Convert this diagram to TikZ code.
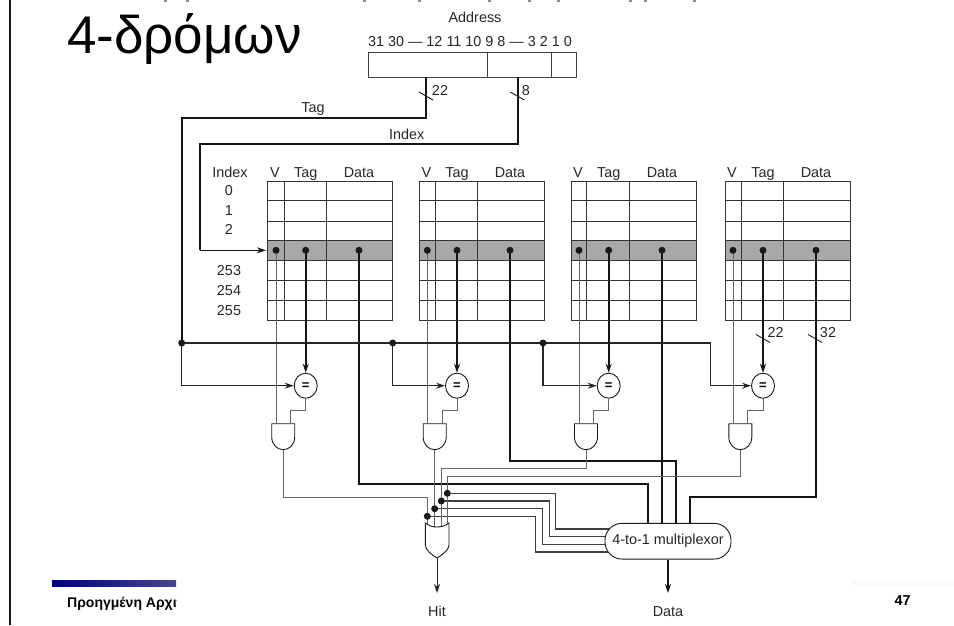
\documentclass[tikz,border=0pt]{standalone}
\usepackage{fontspec}
\setmainfont{Liberation Sans}
\setsansfont{Liberation Sans}
\usetikzlibrary{positioning,arrows.meta,backgrounds,shapes.geometric}
\definecolor{barnavy}{RGB}{0,0,128}
\definecolor{barend}{RGB}{72,72,140}
\definecolor{rowgray}{RGB}{168,168,168}

\begin{document}
\begin{tikzpicture}[
  x=1pt,y=-1pt,
  font=\sffamily,
  >={Stealth[length=9pt,width=6pt]},
  lbl/.style={font=\sffamily\fontsize{14.4}{14.4}\selectfont,text=black!85,inner sep=0pt,text height=10.5pt,text depth=0.5pt},
  field/.style={rectangle,draw=black!75,line width=0.9pt,fill=white,minimum height=25pt,anchor=north west,inner sep=0pt},
  waybox/.style={rectangle,draw=black!80,line width=0.9pt,minimum width=125pt,minimum height=139.3pt,anchor=north west,inner sep=0pt},
  grid/.style={draw=black!80,line width=0.9pt},
  dot/.style={circle,fill=black!90,inner sep=0pt,minimum size=7pt},
  cmp/.style={ellipse,draw=black!90,line width=0.9pt,fill=white,inner sep=0pt,minimum width=23pt,minimum height=25pt,font=\sffamily\bfseries\fontsize{13}{13}\selectfont},
  gate/.style={draw=black!90,line width=0.9pt,fill=white},
  muxbox/.style={rectangle,rounded corners=17pt,draw=black!90,line width=0.9pt,fill=white,minimum width=126pt,minimum height=35.7pt,inner sep=0pt,font=\sffamily\fontsize{14.4}{14.4}\selectfont,text=black!85},
  thin wire/.style={draw=black!60,line width=1pt},
  sel wire/.style={draw=black!75,line width=1.1pt},
  bus/.style={draw=black!85,line width=1.3pt},
  fat/.style={draw=black!92,line width=1.8pt},
  slash/.style={draw=black!90,line width=0.9pt}
]
\useasboundingbox (0,0) rectangle (954,625);

%% ================= frame and title =================
\coordinate (frametop) at (10,0);
\coordinate (framebot) at (10,625);
\draw[draw=black!90,line width=2pt] (frametop) -- (framebot);
\foreach \x in {165,187,364,419,489,529,558,630,645,694}
  \fill[black!45] (\x-1.5,0) rectangle (\x+1.5,1.6);
\node[anchor=base west,inner sep=0pt,font=\sffamily\fontsize{53}{53}\selectfont] (title) at (67,53) {4-δρόμων};

%% ================= address =================
\node[lbl] (addrlab) at (475,17) {Address};
\node[lbl] (bitslab) at (470,41) {31 30 — 12 11 10 9 8 — 3 2 1 0};
\node[field,minimum width=119pt] (ftag) at (367.7,52) {};
\node[field,minimum width=64pt]  (fidx) at (486.7,52) {};
\node[field,minimum width=25.3pt] (foff) at (550.7,52) {};

\coordinate (tagtap)  at (426,77);
\coordinate (tagbend) at (426,118);
\coordinate (idxtap)  at (518,77);
\coordinate (idxbend) at (518,144);
\coordinate (idxtop)  at (200,144);
\coordinate (idxcorn) at (200,250.3);
\coordinate (rowin)   at (266,250.3);
\node[lbl] (taglab) at (313,107) {Tag};
\node[lbl] (idxlab) at (406.7,134) {Index};

%% ================= the four ways =================
\node[lbl] (idxhead) at (230,172) {Index};
\foreach \t/\y in {0/190.7, 1/210, 2/229, 253/270, 254/290, 255/310}
  \node[lbl] (row\t) at (229,\y) {\t};

\foreach \n/\tx/\va/\vb/\dv/\dt/\dd in {1/267.3/284.3/326/276/305.7/359,
    2/419.3/435.7/477.5/427.3/457/510,
    3/570.7/586.7/629.3/579/608.7/662,
    4/725/741.3/783.3/733/763/816}{
  \fill[rowgray] (\tx,240.3) rectangle (\tx+125,260);
  \node[waybox] (way\n) at (\tx,180.7) {};
  \foreach \y in {200.7,221,240.3,260,280,300}
    \draw[grid] (\tx,\y) -- (\tx+125,\y);
  \foreach \x in {\va,\vb}
    \draw[grid] (\x,180.7) -- (\x,320);
  \node[lbl] (headv\n) at (\dv-1,172) {V};
  \node[lbl] (headt\n) at (\dt,172) {Tag};
  \node[lbl] (headd\n) at (\dd,172) {Data};
  \coordinate (dotv\n) at (\dv,250.3);
  \coordinate (dott\n) at (\dt,250.3);
  \coordinate (dotd\n) at (\dd,250.3);
}

%% ================= comparators and gates =================
\foreach \n/\cx in {1/305.7, 2/457, 3/608.7, 4/763}
  \node[cmp] (cmp\n) at (\cx,385.7) {=};

\foreach \n/\ax/\px/\ty in {1/283.2/290.7/497.7, 2/434.7/442.7/497.7, 3/586/593.7/468.7, 4/740.3/747.7/476.5}{
  \draw[gate] (\ax-11.5,423.7) -- (\ax+11.5,423.7) -- (\ax+11.5,437)
    .. controls (\ax+11.5,444.5) and (\ax+6,449.7) .. (\ax,449.7)
    .. controls (\ax-6,449.7) and (\ax-11.5,444.5) .. (\ax-11.5,437) -- cycle;
  \coordinate (andout\n) at (\ax,449.7);
  \coordinate (andin\n)  at (\px,423.7);
  \coordinate (cmpbend\n) at (\px,410.3);
  \coordinate (turn\n) at (\ax,\ty);
  \draw[thin wire] (cmp\n.south) |- (cmpbend\n) -- (andin\n);
}
\foreach \n in {1,2,3,4}
  \draw[thin wire] (dotv\n) -- (dotv\n |- andin\n);

%% ================= multiplexor =================
\node[muxbox] (mux) at (668,541.2) {4-to-1 multiplexor};
\node[lbl] (datalab) at (668,611) {Data};
\node[lbl] (hitlab)  at (437,611) {Hit};
\coordinate (dataend) at (668,593);
\coordinate (hitend)  at (437,593);
\draw[->,fat,line width=1.4pt] (mux.south) -- (dataend);

\coordinate (dturn1) at (647.7,484);
\coordinate (dturn2) at (676,461);
\coordinate (dturn4) at (690,497.3);
\foreach \n in {1,2,4}
  \draw[fat] (dotd\n) |- (dturn\n) -- (dturn\n |- mux.north);
\draw[fat] (dotd3) -- (dotd3 |- mux.north);

%% ================= tag bus =================
\coordinate (bus1) at (181.7,343);
\coordinate (bus2) at (392.7,343);
\coordinate (bus3) at (543,343);
\coordinate (bus4) at (710.7,343);
\draw[fat,line width=1.6pt] (tagtap) -- (tagbend) -| (bus1);
\draw[fat,line width=1.6pt] (idxtap) -- (idxbend) -- (idxtop) -- (idxcorn);
\draw[->,fat,line width=1.6pt] (idxcorn) -- (rowin);
\draw[bus] (bus1) -- (bus4);
\foreach \n in {1,2,3,4}{
  \draw[->,bus] (bus\n) |- (cmp\n);
  \draw[->,fat] (dott\n) -- (dott\n |- cmp\n.north);
}
\foreach \n in {1,2,3}
  \node[dot] (busdot\n) at (bus\n) {};
\foreach \n in {1,2,3,4}{
  \node[dot] (vdot\n) at (dotv\n) {};
  \node[dot] (tdot\n) at (dott\n) {};
  \node[dot] (ddot\n) at (dotd\n) {};
}

%% ================= hit logic =================
\foreach \n/\ox/\sy/\kx/\ky in {1/427.3/516.3/535.3/552, 2/434.7/508.7/542.7/544.3,
    3/441.3/501/549.7/536.3, 4/447.3/493.3/555.3/529}{
  \coordinate (sel\n) at (\ox,\sy);
  \coordinate (orin\n) at (\ox,531);
  \coordinate (kink\n) at (\kx,\ky);
  \coordinate (muxin\n) at (618,\ky);
  \draw[thin wire] (andout\n) -- (turn\n) -| (orin\n);
  \begin{scope}[on background layer]
    \draw[sel wire] (sel\n) -| (kink\n) -- (muxin\n);
  \end{scope}
  \node[dot] (seldot\n) at (sel\n) {};
}
\draw[gate] (425.3,523) .. controls (429,526) and (433,527) .. (437,527)
  .. controls (441,527) and (445,526) .. (449,523) -- (449,545)
  .. controls (449,550) and (442,555) .. (437,558)
  .. controls (432,555) and (425.3,550) .. (425.3,545) -- cycle;
\coordinate (orout) at (437,558);
\draw[->,draw=black!85,line width=1pt] (orout) -- (hitend);

%% ================= bit widths =================
\foreach \s/\x/\y in {s22/426/96, s8/517.3/96, t22/763/338.5, d32/815/338.5}{
  \coordinate (\s) at (\x,\y);
  \draw[slash] ([shift={(-7,-4)}]\s) -- ([shift={(7,4)}]\s);
}
\node[lbl] (lab22) at (440,90) {22};
\node[lbl] (lab8)  at (526,90) {8};
\node[lbl] (labt)  at (775.7,332) {22};
\node[lbl] (labd)  at (828,332) {32};

%% ================= footer =================
\fill[left color=barnavy,right color=barend] (52,580) rectangle (176,586);
\fill[black!2] (852,580) rectangle (954,586);
\begin{scope}
  \clip (52,590) rectangle (176,615);
  \node[anchor=base west,inner sep=0pt,font=\sffamily\bfseries\fontsize{14}{14}\selectfont] (foot) at (67,607) {Προηγμένη Αρχιτεκτονική};
\end{scope}
\node[anchor=base,inner sep=0pt,font=\sffamily\bfseries\fontsize{14.4}{14.4}\selectfont] (pagenum) at (902.7,605) {47};

\end{tikzpicture}
\end{document}
